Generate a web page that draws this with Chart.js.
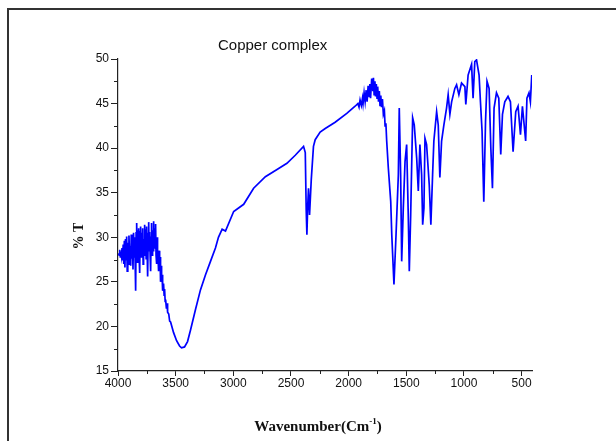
<!DOCTYPE html>
<html>
<head>
<meta charset="utf-8">
<script src="https://cdn.jsdelivr.net/npm/chart.js@4.4.0/dist/chart.umd.min.js"></script>
<style>
  body { margin: 0; background: #fff; }
  canvas { display: block; }
</style>
</head>
<body>
<canvas id="myChart" width="616" height="441"></canvas>
<script>
// wavenumber (cm-1)
var wavenumber = [
  3996, 3990, 3985, 3980, 3975, 3970, 3965, 3960, 3955, 3950, 3945, 3940, 3935, 3930, 3925, 3920,
  3915, 3910, 3905, 3900, 3895, 3890, 3885, 3880, 3875, 3870, 3865, 3860, 3856, 3851, 3847, 3843,
  3838, 3834, 3830, 3825, 3821, 3816, 3812, 3808, 3804, 3799, 3795, 3790, 3786, 3782, 3778, 3773,
  3769, 3764, 3760, 3756, 3752, 3747, 3743, 3738, 3734, 3730, 3726, 3721, 3717, 3713, 3709, 3704,
  3700, 3695, 3691, 3687, 3683, 3678, 3674, 3670, 3665, 3661, 3657, 3652, 3648, 3644, 3639, 3635,
  3631, 3626, 3622, 3618, 3613, 3605, 3600, 3596, 3591, 3587, 3580, 3575, 3570, 3560, 3552, 3544,
  3518, 3492, 3466, 3449, 3423, 3397, 3371, 3328, 3285, 3241, 3198, 3155, 3129, 3097, 3068, 2997,
  2910, 2824, 2722, 2621, 2535, 2463, 2391, 2376, 2368, 2362, 2355, 2348, 2339, 2324, 2305, 2290,
  2247, 2203, 2117, 2016, 1944, 1920, 1910, 1901, 1890, 1880, 1875, 1866, 1857, 1848, 1840, 1831,
  1822, 1816, 1810, 1800, 1790, 1785, 1779, 1772, 1767, 1760, 1754, 1748, 1741, 1734, 1728, 1721,
  1715, 1707, 1699, 1690, 1684, 1677, 1670, 1656, 1635, 1626, 1607, 1589, 1569, 1561, 1549, 1540,
  1526, 1511, 1497, 1483, 1474, 1462, 1445, 1431, 1410, 1396, 1382, 1367, 1358, 1347, 1338, 1324,
  1301, 1287, 1272, 1261, 1237, 1223, 1209, 1194, 1174, 1151, 1137, 1122, 1107, 1079, 1064, 1044,
  1021, 992, 984, 964, 934, 921, 906, 891, 869, 857, 843, 828, 813, 800, 782, 767,
  753, 739, 718, 698, 681, 666, 646, 618, 597, 574, 551, 531, 510, 493, 465, 454,
  436, 424, 412
];

// % transmittance
var transmittance = [
  28.2, 28.0, 28.6, 27.8, 28.4, 27.9, 28.8, 27.4, 29.2, 27.0, 29.6, 26.6, 29.8, 27.5, 30.1, 26.2,
  29.4, 27.0, 30.2, 28.0, 29.0, 26.8, 30.3, 27.6, 29.8, 26.4, 30.5, 27.8, 30.0, 27.0, 24.0, 30.5,
  31.6, 27.2, 30.8, 28.0, 31.0, 27.5, 26.0, 30.6, 31.2, 27.8, 30.5, 28.0, 31.0, 27.0, 29.8, 28.2,
  31.4, 28.0, 30.9, 27.6, 31.2, 28.4, 25.6, 30.4, 31.7, 28.5, 30.6, 27.8, 26.2, 30.0, 31.6, 28.0,
  30.8, 28.5, 31.8, 28.8, 31.0, 29.0, 31.5, 28.0, 27.0, 30.0, 28.5, 27.5, 26.2, 28.5, 27.0, 27.8,
  25.0, 26.8, 25.2, 25.8, 24.0, 24.8, 23.5, 24.2, 22.8, 23.0, 22.0, 22.6, 21.6, 21.4, 20.6, 20.5,
  19.3, 18.4, 17.8, 17.6, 17.7, 18.3, 19.6, 21.9, 24.1, 25.8, 27.3, 28.8, 30.0, 30.9, 30.7, 32.9,
  33.7, 35.5, 36.8, 37.6, 38.3, 39.2, 40.2, 39.5, 33.1, 30.3, 33.5, 35.5, 32.5, 36.5, 40.2, 40.95,
  41.8, 42.2, 42.9, 43.9, 44.7, 45.0, 44.6, 45.4, 44.8, 45.6, 45.0, 46.2, 45.2, 46.5, 45.2, 47.0,
  45.8, 47.2, 45.6, 47.8, 46.4, 47.9, 46.0, 47.5, 45.8, 47.2, 45.6, 46.9, 45.2, 46.4, 44.8, 45.9,
  44.6, 45.5, 43.8, 44.2, 42.5, 42.8, 40.8, 37.8, 34.0, 30.3, 24.7, 30.3, 37.0, 44.5, 37.0, 27.3,
  33.3, 38.5, 40.4, 32.5, 26.2, 32.5, 43.4, 42.6, 38.9, 35.2, 40.4, 37.0, 31.4, 33.3, 41.1, 40.4,
  35.9, 31.4, 37.0, 40.8, 44.1, 42.6, 36.7, 40.8, 42.6, 44.5, 46.0, 43.8, 45.2, 46.7, 47.1, 46.0,
  47.3, 46.9, 44.9, 48.2, 49.4, 45.6, 49.7, 49.9, 48.2, 45.2, 41.9, 34.0, 43.0, 47.5, 46.7, 40.0,
  35.5, 44.5, 46.2, 45.6, 39.3, 43.8, 45.2, 45.8, 45.2, 39.6, 44.1, 44.7, 41.5, 44.7, 40.8, 45.6,
  46.2, 45.2, 48.2
];

var xTicks = [4000, 3500, 3000, 2500, 2000, 1500, 1000, 500];
var yTicks = [15, 20, 25, 30, 35, 40, 45, 50];

var chartTitle = 'Copper complex';
var yTitle = '% T';

var points = wavenumber.map(function (w, i) {
    return { x: w, y: transmittance[i] };
});

var ctx = document.getElementById('myChart').getContext('2d');

// frame, titles and minor ticks
var decorations = {
    id: 'decorations',
    afterDraw: function (chart) {
        var c = chart.ctx;
        var xs = chart.scales.x;
        var ys = chart.scales.y;
        var area = chart.chartArea;
        c.save();

        // outer frame (only top and left are in view)
        c.strokeStyle = '#333';
        c.lineWidth = 2;
        c.beginPath();
        c.moveTo(8, 441);
        c.lineTo(8, 9);
        c.lineTo(616, 9);
        c.stroke();

        // minor ticks
        c.strokeStyle = '#222';
        c.lineWidth = 1;
        c.beginPath();
        for (var v = 17.5; v < 50; v += 5) {
            var py = Math.round(ys.getPixelForValue(v)) + 0.5;
            c.moveTo(area.left - 4, py);
            c.lineTo(area.left, py);
        }
        for (var w = 3750; w > 410; w -= 500) {
            var px = Math.round(xs.getPixelForValue(w)) + 0.5;
            c.moveTo(px, area.bottom);
            c.lineTo(px, area.bottom + 3);
        }
        c.stroke();

        // chart title
        c.fillStyle = '#111';
        c.font = '15px "Liberation Sans", Arial, sans-serif';
        c.textAlign = 'left';
        c.textBaseline = 'middle';
        c.fillText(chartTitle, 218, 46);

        // y axis title
        c.save();
        c.translate(79, 236);
        c.rotate(-Math.PI / 2);
        c.font = 'bold 14px "Liberation Serif", "Times New Roman", serif';
        c.textAlign = 'center';
        c.fillText(yTitle, 0, 0);
        c.restore();

        // x axis title with superscript
        var big = 'bold 15px "Liberation Serif", "Times New Roman", serif';
        var small = 'bold 9px "Liberation Serif", "Times New Roman", serif';
        c.font = big;
        var p1 = 'Wavenumber(Cm';
        var w1 = c.measureText(p1).width;
        var w3 = c.measureText(')').width;
        c.font = small;
        var w2 = c.measureText('-1').width;
        var x0 = 318 - (w1 + w2 + w3) / 2;
        var base = 431;
        c.textBaseline = 'alphabetic';
        c.textAlign = 'left';
        c.font = big;
        c.fillText(p1, x0, base);
        c.font = small;
        c.fillText('-1', x0 + w1, base - 7);
        c.font = big;
        c.fillText(')', x0 + w1 + w2, base);

        c.restore();
    }
};

var config = {
    type: 'line',
    data: {
        datasets: [{
            data: points,
            borderColor: '#0000ff',
            borderWidth: 1.7,
            pointRadius: 0,
            tension: 0,
            fill: false
        }]
    },
    options: {
        responsive: false,
        animation: false,
        layout: { padding: { top: 59, right: 84, left: 0, bottom: 0 } },
        plugins: {
            legend: { display: false },
            tooltip: { enabled: false }
        },
        scales: {
            x: {
                type: 'linear',
                reverse: true,
                min: 410,
                max: 4000,
                afterFit: function (s) { s.height = 70; },
                afterBuildTicks: function (s) {
                    s.ticks = xTicks.map(function (v) { return { value: v }; });
                },
                border: { display: true, color: '#222', width: 1.2 },
                grid: { drawOnChartArea: false, drawTicks: true, tickLength: 5, color: '#222' },
                ticks: {
                    padding: 0,
                    color: '#111',
                    maxRotation: 0,
                    callback: function (v) { return String(v); },
                    font: { family: '"Liberation Sans", Arial, sans-serif', size: 12 }
                }
            },
            y: {
                type: 'linear',
                min: 15,
                max: 50,
                afterFit: function (s) { s.width = 118; },
                afterBuildTicks: function (s) {
                    s.ticks = yTicks.map(function (v) { return { value: v }; });
                },
                border: { display: true, color: '#222', width: 1.2 },
                grid: { drawOnChartArea: false, drawTicks: true, tickLength: 7, color: '#222' },
                ticks: {
                    padding: 2,
                    color: '#111',
                    callback: function (v) { return String(v); },
                    font: { family: '"Liberation Sans", Arial, sans-serif', size: 12 }
                }
            }
        }
    },
    plugins: [decorations]
};

var chart = new Chart(ctx, config);
</script>
</body>
</html>
